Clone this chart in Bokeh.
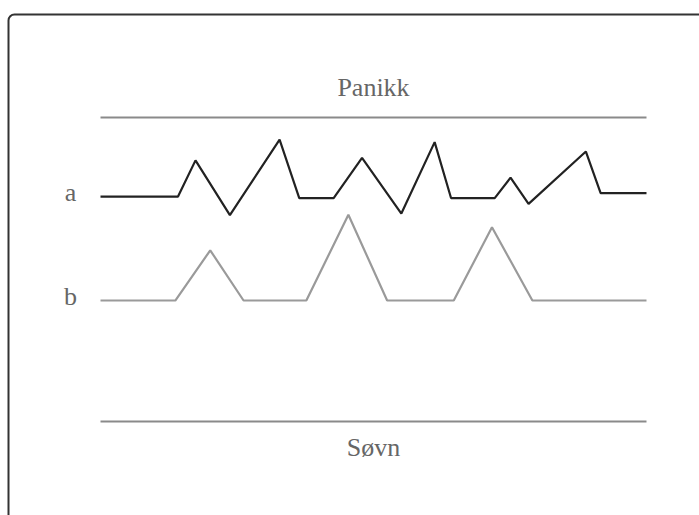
from bokeh.plotting import figure
from bokeh.models import Range1d, BoxAnnotation
from bokeh.core.properties import value
from bokeh.embed import file_html
from bokeh.resources import INLINE

# Scale: 0 = Søvn (sleep), 100 = Panikk (panic); x = time share 0..100
scale_labels = ["Panikk", "Søvn"]
scale_levels = [100, 0]

series_names = ["a", "b"]

a_x = [0, 14.2, 17.4, 23.7, 32.8, 36.4, 42.7, 47.9, 55.1, 61.2, 64.2, 72.2, 75.1, 78.4, 88.9, 91.6, 100]
a_y = [74.0, 74.0, 85.9, 67.9, 92.7, 73.5, 73.5, 86.7, 68.4, 91.9, 73.5, 73.5, 80.2, 71.6, 88.8, 75.1, 75.1]

b_x = [0, 13.7, 20.1, 26.2, 37.7, 45.4, 52.5, 64.7, 71.7, 79.1, 100]
b_y = [39.8, 39.8, 56.3, 39.8, 39.8, 68.0, 39.8, 39.8, 63.9, 39.8, 39.8]

FONT = value("Liberation Serif")
TEXT_COLOR = "#666666"
W, H = 699, 515

p = figure(width=W, height=H, output_backend="svg", toolbar_location=None,
           x_range=Range1d(-18.315, 109.707), y_range=Range1d(-30.921, 138.487),
           x_axis_location=None, y_axis_location=None, min_border=0)
p.grid.visible = False
p.outline_line_color = None
p.background_fill_color = "white"
p.border_fill_color = "white"

# frame border (extends beyond the page on right and bottom)
p.add_layout(BoxAnnotation(left=8, right=900, top=H - 14, bottom=-200,
                           left_units="screen", right_units="screen",
                           top_units="screen", bottom_units="screen",
                           fill_color=None, fill_alpha=0,
                           line_color="#333333", line_alpha=1.0, line_width=2,
                           line_dash="solid", border_radius=6, level="underlay"))

# scale lines Panikk / Søvn
for lvl in scale_levels:
    p.line([0, 100], [lvl, lvl], line_color="#8a8a8a", line_width=2.2)

p.text(x=[50, 50], y=[scale_levels[0] + 9.8, scale_levels[1] - 8.6], text=scale_labels,
       text_font=FONT, text_font_size="26px", text_color=TEXT_COLOR,
       text_align="center", text_baseline="alphabetic")

# series
p.line(a_x, a_y, line_color="#222222", line_width=2.2)
p.line(b_x, b_y, line_color="#9a9a9a", line_width=2.2)

p.text(x=[-5.5, -5.5], y=[a_y[0] + 1.35, b_y[0] + 1.35], text=series_names,
       text_font=FONT, text_font_size="26px", text_color=TEXT_COLOR,
       text_align="center", text_baseline="alphabetic")

open("out.html", "w").write(file_html(p, INLINE))
